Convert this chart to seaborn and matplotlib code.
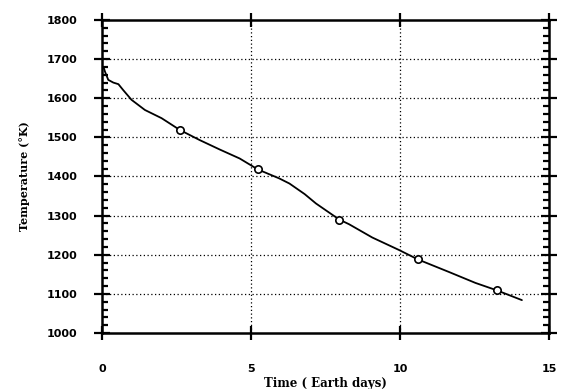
import matplotlib
matplotlib.use("Agg")
import matplotlib.pyplot as plt
import seaborn as sns
import pandas as pd
from matplotlib.ticker import MultipleLocator, FixedLocator

# Curve data
time_days = [0.05, 0.1, 0.21, 0.38, 0.55, 0.71, 0.99, 1.44, 2.0, 2.61, 3.28, 3.95,
             4.62, 5.23, 5.95, 6.29, 6.8, 7.18, 7.96, 8.29, 9.07, 9.97, 10.6,
             11.64, 12.53, 13.25, 14.09]
temperature = [1680, 1668, 1647, 1640, 1636, 1621, 1596, 1570, 1549, 1519, 1493, 1469,
               1446, 1418, 1395, 1382, 1355, 1331, 1290, 1278, 1244, 1212, 1188,
               1156, 1128, 1109, 1084]

marker_time = [2.61, 5.23, 7.96, 10.6, 13.25]
marker_temp = [1519, 1419, 1290, 1188, 1109]

x_ticks = [0, 5, 10, 15]
y_ticks = [1000, 1100, 1200, 1300, 1400, 1500, 1600, 1700, 1800]

sns.set_style("white")
plt.rcParams["text.color"] = "black"
plt.rcParams["axes.labelcolor"] = "black"
plt.rcParams["xtick.color"] = "black"
plt.rcParams["ytick.color"] = "black"

fig = plt.figure(figsize=(5.62, 3.89), dpi=100)
ax = fig.add_axes([0.1815, 0.144, 0.7954, 0.8046])

df = pd.DataFrame({"t": time_days, "T": temperature})
sns.lineplot(data=df, x="t", y="T", ax=ax, color="black", linewidth=1.3, sort=False)
dm = pd.DataFrame({"t": marker_time, "T": marker_temp})
sns.scatterplot(data=dm, x="t", y="T", ax=ax, marker="o", s=28,
                facecolor="white", edgecolor="black", linewidth=1.2, zorder=5)

ax.set_xlim(0, 15)
ax.set_ylim(1000, 1800)
ax.xaxis.set_major_locator(FixedLocator(x_ticks))
ax.yaxis.set_major_locator(FixedLocator(y_ticks))
ax.yaxis.set_minor_locator(MultipleLocator(20))

for s in ax.spines.values():
    s.set_color("black")
    s.set_linewidth(1.8)

# dotted grid at interior majors
for xv in [5, 10]:
    ax.axvline(xv, color="black", linestyle=(0, (1, 2)), linewidth=0.9, zorder=0)
for yv in y_ticks[1:-1]:
    ax.axhline(yv, color="black", linestyle=(0, (1, 2)), linewidth=0.9, zorder=0)

ax.tick_params(axis="y", which="major", direction="inout", length=11, width=1.6,
               left=True, right=True, pad=12, colors="black")
ax.tick_params(axis="y", which="minor", direction="in", length=4, width=1.6,
               left=True, right=True, colors="black")
ax.tick_params(axis="x", which="major", direction="inout", length=10, width=1.6,
               bottom=True, top=True, pad=17, colors="black")

lab_font = dict(family="DejaVu Sans", weight="bold", size=8, color="black")
ax.set_xticklabels([str(v) for v in x_ticks], fontdict=lab_font)
ax.set_yticklabels([str(v) for v in y_ticks], fontdict=lab_font)

ax.set_xlabel("Time ( Earth days)", family="DejaVu Serif", weight="bold",
              fontsize=8.5, va="center", color="black")
ax.xaxis.set_label_coords(0.5, -0.16)
ax.set_ylabel("Temperature (°K)", family="DejaVu Serif", weight="bold",
              fontsize=8, labelpad=12, color="black")

fig.savefig("out.png", dpi=100)
